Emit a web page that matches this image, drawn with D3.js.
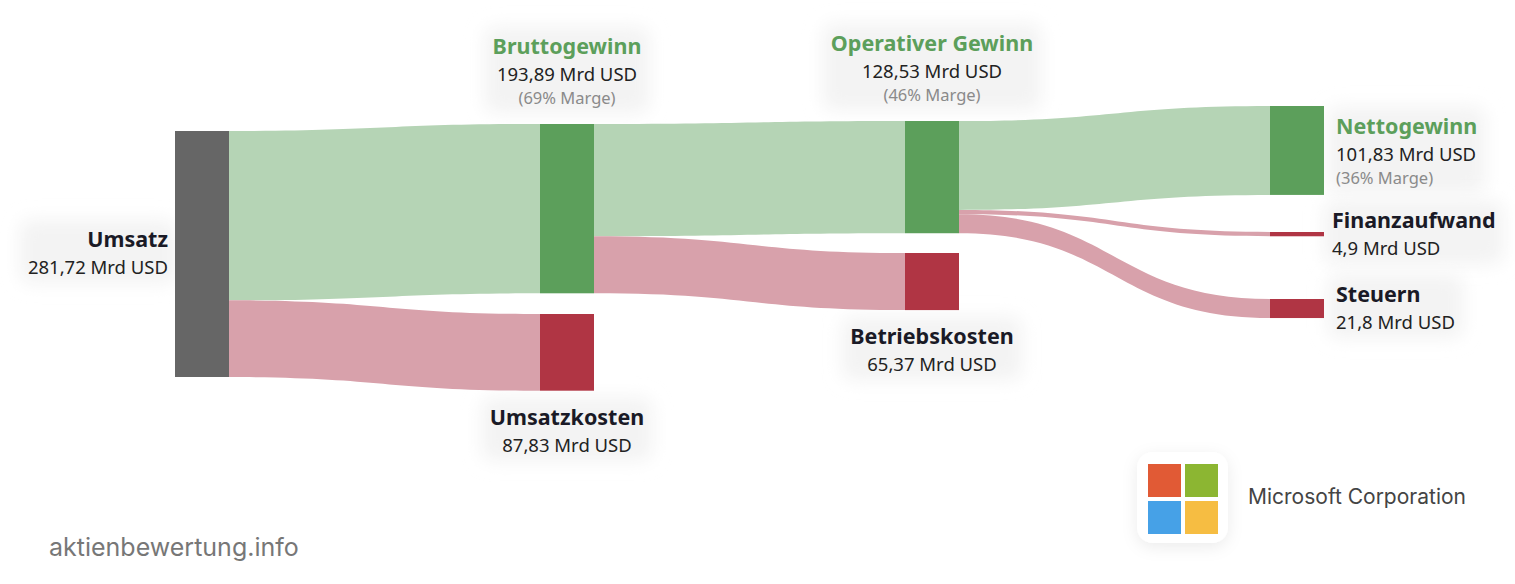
<!DOCTYPE html>
<html>
<head>
<meta charset="utf-8">
<script src="https://cdn.jsdelivr.net/npm/d3@7"></script>
<style>
  body { margin: 0; background: #ffffff; }
  svg { display: block; }
</style>
</head>
<body>
<svg id="chart" width="1515" height="584"></svg>
<script>
// data
const nodeNames = ["Umsatz", "Bruttogewinn", "Umsatzkosten", "Operativer Gewinn", "Betriebskosten", "Nettogewinn", "Finanzaufwand", "Steuern"];
const nodeValues = [281.72, 193.89, 87.83, 128.53, 65.37, 101.83, 4.9, 21.8];
const nodeMargins = [null, 69, null, 46, null, 36, null, null];
const nodeKinds = ["total", "profit", "cost", "profit", "cost", "profit", "cost", "cost"];
const linkSources = [0, 0, 1, 1, 3, 3, 3];
const linkTargets = [1, 2, 3, 4, 5, 6, 7];
const linkValues = [193.89, 87.83, 128.53, 65.37, 101.83, 4.9, 21.8];
const companyName = "Microsoft Corporation";
const siteName = "aktienbewertung.info";

// layout (column and top edge of each node)
const nodeColumn = [0, 1, 1, 2, 2, 3, 3, 3];
const nodeTop = [131, 124, 314, 121, 253, 106, 232, 299];
// label placement: "left", "above", "below", "right"
const labelPos = ["left", "above", "below", "above", "below", "right", "right", "right"];

const svg = d3.select("#chart");
const nodeWidth = 54;

const xCol = d3.scaleLinear().domain([0, 3]).range([175, 1270]);
const h = d3.scaleLinear().domain([0, 281.72]).range([0, 246]);

const nodeColor = { total: "#666666", profit: "#5c9f5b", cost: "#b03544" };
const linkColor = { profit: "#b5d4b5", cost: "#d8a1ab" };

const defs = svg.append("defs");
const haze = defs.append("filter").attr("id", "haze").attr("x", "-40%").attr("y", "-60%").attr("width", "180%").attr("height", "220%");
haze.append("feGaussianBlur").attr("stdDeviation", 9);
const shadow2 = defs.append("filter").attr("id", "logo").attr("x", "-40%").attr("y", "-40%").attr("width", "180%").attr("height", "180%");
shadow2.append("feDropShadow").attr("dx", 0).attr("dy", 4).attr("stdDeviation", 8)
  .attr("flood-color", "#000").attr("flood-opacity", 0.08);

const nodes = nodeNames.map(function(name, i) {
  return {
    name: name, value: nodeValues[i], margin: nodeMargins[i], kind: nodeKinds[i],
    x0: xCol(nodeColumn[i]), x1: xCol(nodeColumn[i]) + nodeWidth,
    y0: nodeTop[i], y1: nodeTop[i] + h(nodeValues[i]),
    outOffset: 0, inOffset: 0, pos: labelPos[i]
  };
});

const links = linkValues.map(function(v, i) {
  const s = nodes[linkSources[i]], t = nodes[linkTargets[i]];
  const w = h(v);
  const l = { source: s, target: t, value: v,
    sy0: s.y0 + s.outOffset, ty0: t.y0 + t.inOffset, w: w };
  s.outOffset += w;
  t.inOffset += w;
  return l;
});

function linkPath(l) {
  const x0 = l.source.x1, x1 = l.target.x0;
  const xm = (x0 + x1) / 2;
  const a = l.sy0, b = l.ty0, c = l.ty0 + l.w, d = l.sy0 + l.w;
  return "M" + x0 + "," + a + "C" + xm + "," + a + " " + xm + "," + b + " " + x1 + "," + b +
    "L" + x1 + "," + c + "C" + xm + "," + c + " " + xm + "," + d + " " + x0 + "," + d + "Z";
}

const fontMain = "'Noto Sans', 'Open Sans', sans-serif";
const labels = svg.append("g");

svg.append("g").selectAll("path")
  .data(links)
  .enter()
  .append("path")
  .attr("d", linkPath)
  .attr("fill", function(d) { return linkColor[d.target.kind]; });

svg.append("g").selectAll("rect")
  .data(nodes)
  .enter()
  .append("rect")
  .attr("x", function(d) { return d.x0; })
  .attr("y", function(d) { return d.y0; })
  .attr("width", nodeWidth)
  .attr("height", function(d) { return Math.max(1, d.y1 - d.y0); })
  .attr("fill", function(d) { return nodeColor[d.kind]; });

function fmt(v) {
  return String(v).replace(".", ",") + " Mrd USD";
}

nodes.forEach(function(n) {
  const lines = [];
  lines.push({ text: n.name, size: 21.5, weight: 700, color: n.kind == "profit" ? "#5c9f5b" : "#1a1a26" });
  lines.push({ text: fmt(n.value), size: 18.5, weight: 400, color: "#222" });
  if (n.margin != null) lines.push({ text: "(" + n.margin + "% Marge)", size: 16.5, weight: 400, color: "#8a8a8a" });
  const gap = [0, 27, 23];
  let x, anchor, y;
  const cx = (n.x0 + n.x1) / 2;
  if (n.pos == "left") { x = n.x0 - 7; anchor = "end"; y = n.y0 + 116; }
  else if (n.pos == "above") { x = cx; anchor = "middle"; y = n.y0 - (lines.length == 3 ? 70 : 50); }
  else if (n.pos == "below") { x = cx; anchor = "middle"; y = n.y1 + 34; }
  else { x = n.x1 + 12; anchor = "start"; y = n.y0 + 28; }
  if (n.name == "Finanzaufwand") { x = n.x1 + 8; y = n.y0 - 4; }
  if (n.name == "Steuern") { y = n.y0 + 3; }
  if (n.name == "Nettogewinn") { y = n.y0 + 28; }

  const g = labels.append("g");
  let yy = y;
  lines.forEach(function(ln, i) {
    yy += gap[i];
    g.append("text")
      .attr("x", x).attr("y", yy)
      .attr("text-anchor", anchor)
      .attr("font-family", fontMain)
      .attr("font-size", ln.size + "px")
      .attr("font-weight", ln.weight)
      .attr("fill", ln.color)
      .text(ln.text);
  });
  const bb = g.node().getBBox();
  g.insert("rect", "text")
    .attr("x", bb.x - 8).attr("y", bb.y - 4)
    .attr("width", bb.width + 16).attr("height", bb.height + 8)
    .attr("rx", 10)
    .attr("fill", "#f3f3f3")
    .attr("filter", "url(#haze)");
});

// company logo
const logo = svg.append("g").attr("transform", "translate(1137,452)");
logo.append("rect").attr("width", 91).attr("height", 91).attr("rx", 16)
  .attr("fill", "#fff").attr("filter", "url(#logo)");
const tiles = ["#e15a35", "#8cb632", "#46a1e7", "#f6bd42"];
logo.selectAll("rect.tile").data(tiles).enter().append("rect")
  .attr("class", "tile")
  .attr("x", function(d, i) { return 11 + (i % 2) * 37; })
  .attr("y", function(d, i) { return 12 + Math.floor(i / 2) * 37; })
  .attr("width", 33).attr("height", 33)
  .attr("fill", function(d) { return d; });

svg.append("text")
  .attr("x", 1248).attr("y", 504)
  .attr("font-family", "Inter, 'Open Sans', sans-serif")
  .attr("font-size", "21px")
  .attr("fill", "#444")
  .text(companyName);

svg.append("text")
  .attr("x", 49).attr("y", 556)
  .attr("font-family", "Inter, 'Open Sans', sans-serif")
  .attr("font-size", "25px")
  .attr("fill", "#777")
  .text(siteName);
</script>
</body>
</html>
